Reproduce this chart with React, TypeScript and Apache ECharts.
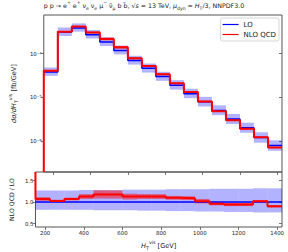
import React, { useEffect, useRef } from "react";
import * as echarts from "echarts";

// Bin edges of H_T^vis [GeV]
const binEdges = [150, 225, 300, 375, 450, 525, 600, 675, 750, 825, 900, 975, 1050, 1125, 1200, 1275, 1350, 1425];
// dσ/dH_T^vis [fb/GeV]
const loValues = [3.79e-5, 3.12e-4, 3.9e-4, 2.72e-4, 1.85e-4, 1.19e-4, 6.94e-5, 4.61e-5, 2.98e-5, 1.9e-5, 1.21e-5, 7.88e-6, 5.0e-6, 3.17e-6, 2.0e-6, 1.2e-6, 7.83e-7];
const nloValues = [4.06e-5, 3.2e-4, 4.18e-4, 3.07e-4, 2.18e-4, 1.4e-4, 7.83e-5, 5.21e-5, 3.36e-5, 2.09e-5, 1.32e-5, 8.05e-6, 4.82e-6, 2.99e-6, 1.89e-6, 1.22e-6, 7.05e-7];
// LO scale band, relative to LO
const loBandLow = [0.82, 0.82, 0.82, 0.82, 0.81, 0.81, 0.81, 0.8, 0.8, 0.79, 0.79, 0.78, 0.78, 0.77, 0.77, 0.76, 0.76];
const loBandHigh = [1.27, 1.27, 1.27, 1.28, 1.28, 1.28, 1.29, 1.29, 1.29, 1.3, 1.3, 1.3, 1.31, 1.31, 1.31, 1.32, 1.32];
// NLO scale band half width, relative to NLO
const nloBandHalf = [0.04, 0.03, 0.03, 0.05, 0.08, 0.08, 0.06, 0.05, 0.05, 0.04, 0.04, 0.05, 0.04, 0.04, 0.04, 0.03, 0.03];

const xTicks = [200, 400, 600, 800, 1000, 1200, 1400];
const yTicks = [1e-6, 1e-5, 1e-4];
const ratioTicks = [0.5, 1.0, 1.5];

const Y_MIN = 1.94e-7;
const Y_MAX = 7.7e-4;
const R_MIN = 0.42;
const R_MAX = 1.7;
const X_MIN = 150;
const X_MAX = 1425;

const FONT = "DejaVu Sans";
const AXIS_COLOR = "#555";
const TEXT = "#222";
const BLUE = "#0000ff";
const RED = "#ff0000";

const supMap: Record<string, string> = { "-": "⁻", "0": "⁰", "1": "¹", "2": "²", "3": "³", "4": "⁴", "5": "⁵", "6": "⁶", "7": "⁷", "8": "⁸", "9": "⁹" };
const pow10Label = (v: number) => {
  const e = Math.round(Math.log10(v));
  return "10" + String(e).split("").map((c) => supMap[c] || c).join("");
};

function bandItem(lo: number, hi: number, i: number) {
  return [binEdges[i], binEdges[i + 1], lo, hi];
}

export default function App() {
  const ref = useRef<HTMLDivElement>(null);

  useEffect(() => {
    if (!ref.current) return;
    const chart = echarts.init(ref.current, null, { renderer: "svg" });

    const ratios = nloValues.map((v, i) => v / loValues[i]);

    const loStep: number[][] = binEdges.slice(0, -1).map((e, i) => [e, loValues[i]]);
    loStep.push([binEdges[binEdges.length - 1], loValues[loValues.length - 1]]);
    const nloStep: number[][] = [[binEdges[0], Y_MIN]];
    binEdges.slice(0, -1).forEach((e, i) => nloStep.push([e, nloValues[i]]));
    nloStep.push([binEdges[binEdges.length - 1], nloValues[nloValues.length - 1]]);

    const loRatioStep: number[][] = binEdges.map((e) => [e, 1]);
    const nloRatioStep: number[][] = [[binEdges[0], R_MAX]];
    binEdges.slice(0, -1).forEach((e, i) => nloRatioStep.push([e, ratios[i]]));
    nloRatioStep.push([binEdges[binEdges.length - 1], ratios[ratios.length - 1]]);

    const loBandMain = loValues.map((v, i) => bandItem(v * loBandLow[i], v * loBandHigh[i], i));
    const nloBandMain = nloValues.map((v, i) => bandItem(v * (1 - nloBandHalf[i]), v * (1 + nloBandHalf[i]), i));
    const loBandRatio = loValues.map((_, i) => bandItem(loBandLow[i], loBandHigh[i], i));
    const nloBandRatio = ratios.map((r, i) => bandItem(r * (1 - nloBandHalf[i]), r * (1 + nloBandHalf[i]), i));

    const bandSeries = (name: string, data: number[][], color: string, gi: number, z: number) => ({
      type: "custom",
      name,
      xAxisIndex: gi,
      yAxisIndex: gi * 2,
      data,
      z,
      silent: true,
      encode: { x: [0, 1], y: [2, 3] },
      renderItem: (params: any, api: any) => {
        const p0 = api.coord([api.value(0), api.value(3)]);
        const p1 = api.coord([api.value(1), api.value(2)]);
        const rect = echarts.graphic.clipRectByRect(
          { x: p0[0], y: p0[1], width: p1[0] - p0[0], height: p1[1] - p0[1] },
          { x: params.coordSys.x, y: params.coordSys.y, width: params.coordSys.width, height: params.coordSys.height }
        );
        if (!rect) return null;
        return { type: "rect", shape: rect, style: { fill: color } };
      },
    });

    const lineSeries = (name: string, data: number[][], color: string, width: number, gi: number, z: number) => ({
      type: "line",
      name,
      xAxisIndex: gi,
      yAxisIndex: gi * 2,
      data,
      step: "end",
      showSymbol: false,
      symbol: "none",
      clip: true,
      z,
      lineStyle: { color, width },
      itemStyle: { color },
    });

    const tickStyle = { color: AXIS_COLOR, width: 0.8 };
    const labelStyle = { fontFamily: FONT, fontSize: 5.4, color: TEXT };

    const base = { fontFamily: FONT, fontWeight: "normal", color: TEXT };
    const n = { ...base, fontSize: 6.3, lineHeight: 11, verticalAlign: "middle" };
    const it = { ...n, fontStyle: "italic" };
    const sup = { ...base, fontSize: 4.6, lineHeight: 5, verticalAlign: "top" };
    const sub = { ...base, fontSize: 4.6, lineHeight: 5, verticalAlign: "bottom" };

    const axisNameRich = (fs: number) => ({
      n: { ...base, fontSize: fs, lineHeight: 11, verticalAlign: "middle" },
      i: { ...base, fontSize: fs, lineHeight: 11, verticalAlign: "middle", fontStyle: "italic" },
      sup: { ...base, fontSize: fs * 0.72, lineHeight: 6, verticalAlign: "top" },
      sub: { ...base, fontSize: fs * 0.72, lineHeight: 6, verticalAlign: "bottom" },
    });

    const legendItem = (name: string, color: string) => ({
      name,
      icon: "rect",
      itemStyle: { color, borderWidth: 0, borderColor: "transparent" },
    });

    const option: any = {
      animation: false,
      backgroundColor: "#ffffff",
      title: {
        left: "center",
        top: 0,
        padding: [0, 0, 0, 22],
        text:
          "{n|p p → e}{sup|+}{n| e}{sup|+}{n| ν}{sub|e}{n| ν}{sub|e}{n| μ}{sup|−}{n| ν̄}{sub|μ}{n| b b̄, √}{it|s}{n| = 13 TeV, }{it|μ}{sub|dyn}{n| = }{it|H}{sub|T}{n|/3, NNPDF3.0}",
        textStyle: { ...base, fontSize: 6.3, rich: { n, it, sup, sub } },
      },
      legend: {
        data: [legendItem("LO", BLUE), legendItem("NLO QCD", RED)],
        orient: "vertical",
        right: 9,
        top: 18,
        itemWidth: 16,
        itemHeight: 1.2,
        itemGap: 3,
        itemStyle: { borderWidth: 0, borderColor: "transparent" },
        padding: [3, 3, 3, 2],
        backgroundColor: "#ffffff",
        borderColor: "#cccccc",
        borderWidth: 0.8,
        borderRadius: 2,
        textStyle: { fontFamily: FONT, fontSize: 7, color: TEXT },
      },
      grid: [
        { left: 29, right: 6, top: 15, height: 157, show: true, borderColor: AXIS_COLOR, borderWidth: 1, backgroundColor: "transparent" },
        { left: 29, right: 6, top: 172, height: 59, show: true, borderColor: AXIS_COLOR, borderWidth: 1, backgroundColor: "transparent" },
      ],
      xAxis: [
        {
          gridIndex: 0,
          type: "value",
          min: X_MIN,
          max: X_MAX,
          axisLine: { show: false },
          axisTick: { show: true, customValues: xTicks, length: 3, inside: false, lineStyle: tickStyle },
          axisLabel: { show: false, customValues: xTicks },
          splitLine: { show: false },
        },
        {
          gridIndex: 1,
          type: "value",
          min: X_MIN,
          max: X_MAX,
          axisLine: { show: false },
          axisTick: { show: true, customValues: xTicks, length: 3, inside: false, lineStyle: tickStyle },
          axisLabel: { ...labelStyle, customValues: xTicks, margin: 3, formatter: (v: number) => String(v) },
          splitLine: { show: false },
          name: "{i|H}{sub|T}{sup|vis}{n| [GeV]}",
          nameLocation: "middle",
          nameGap: 13,
          nameTextStyle: { rich: axisNameRich(6.6) },
        },
      ],
      yAxis: [
        {
          gridIndex: 0,
          type: "log",
          logBase: 10,
          min: Y_MIN,
          max: Y_MAX,
          axisLine: { show: false },
          axisTick: { show: true, customValues: yTicks, length: 3, inside: false, lineStyle: tickStyle },
          axisLabel: { ...labelStyle, customValues: yTicks, margin: 2, formatter: (v: number) => pow10Label(v) },
          splitLine: { show: false },
          name: "{i|dσ/dH}{sub|T}{sup|vis}{n| [fb/GeV]}",
          nameLocation: "middle",
          nameGap: 15,
          nameRotate: 90,
          nameTextStyle: { rich: axisNameRich(6.6) },
        },
        {
          gridIndex: 0,
          type: "log",
          logBase: 10,
          min: Y_MIN,
          max: Y_MAX,
          position: "right",
          axisLine: { show: false },
          axisTick: { show: true, customValues: yTicks, length: 3, inside: true, lineStyle: tickStyle },
          axisLabel: { show: false, customValues: yTicks },
          splitLine: { show: false },
        },
        {
          gridIndex: 1,
          type: "value",
          min: R_MIN,
          max: R_MAX,
          axisLine: { show: false },
          axisTick: { show: true, customValues: ratioTicks, length: 3, inside: false, lineStyle: tickStyle },
          axisLabel: { ...labelStyle, customValues: ratioTicks, margin: 2, formatter: (v: number) => v.toFixed(1) },
          splitLine: { show: false },
          name: "NLO QCD / LO",
          nameLocation: "middle",
          nameGap: 15,
          nameRotate: 90,
          nameTextStyle: { fontFamily: FONT, fontSize: 6.2, color: TEXT },
        },
        {
          gridIndex: 1,
          type: "value",
          min: R_MIN,
          max: R_MAX,
          position: "right",
          axisLine: { show: false },
          axisTick: { show: true, customValues: ratioTicks, length: 3, inside: true, lineStyle: tickStyle },
          axisLabel: { show: false, customValues: ratioTicks },
          splitLine: { show: false },
        },
      ],
      series: [
        bandSeries("LO band", loBandMain, "rgba(0,0,255,0.3)", 0, 1),
        bandSeries("NLO band", nloBandMain, "rgba(255,0,0,0.45)", 0, 2),
        lineSeries("LO", loStep, BLUE, 1.5, 0, 3),
        lineSeries("NLO QCD", nloStep, RED, 2, 0, 4),
        bandSeries("LO band r", loBandRatio, "rgba(0,0,255,0.3)", 1, 1),
        bandSeries("NLO band r", nloBandRatio, "rgba(255,0,0,0.5)", 1, 2),
        lineSeries("LO r", loRatioStep, BLUE, 1.5, 1, 3),
        lineSeries("NLO QCD r", nloRatioStep, RED, 2, 1, 4),
      ],
    };

    chart.setOption(option);
    return () => chart.dispose();
  }, []);

  return <div ref={ref} style={{ position: "absolute", left: 0, top: 0, width: 288, height: 252 }} />;
}
